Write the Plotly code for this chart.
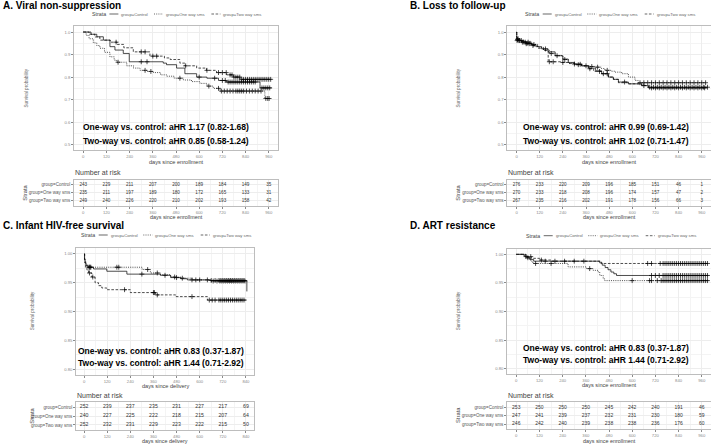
import numpy as np
import plotly.graph_objects as go

W, H = 711, 444

# ---------------- data ----------------
strata_labels = ["group=Control", "group=One way sms", "group=Two way sms"]
risk_times_960 = [0, 120, 240, 360, 480, 600, 720, 840, 960]
risk_times_840 = [0, 120, 240, 360, 480, 600, 720, 840]

# A. Viral non-suppression
A_ctrl_t = [0, 40, 70, 104, 138, 164, 207, 238, 414, 431, 483, 526, 587, 640, 700, 740, 915, 975]
A_ctrl_s = [1.0, 0.99, 0.979, 0.964, 0.935, 0.92, 0.905, 0.868, 0.862, 0.855, 0.84, 0.815, 0.80, 0.795, 0.785, 0.778, 0.752, 0.752]
A_ctrl_c = [300, 330, 600, 680, 720, 735, 750, 760, 770, 780, 790, 800, 810, 820, 830, 840, 850, 860, 870, 880, 890, 925, 935, 945, 955, 965]
A_ow_t = [0, 15, 30, 52, 70, 86, 110, 138, 160, 173, 225, 260, 294, 330, 363, 400, 431, 470, 518, 560, 604, 640, 673, 708, 940, 965]
A_ow_s = [1.0, 0.985, 0.97, 0.952, 0.94, 0.928, 0.91, 0.89, 0.875, 0.866, 0.85, 0.84, 0.83, 0.825, 0.82, 0.81, 0.804, 0.795, 0.787, 0.78, 0.772, 0.76, 0.75, 0.738, 0.705, 0.705]
A_ow_c = [180, 320, 350, 500, 650, 700, 715, 730, 745, 760, 775, 790, 800, 810, 820, 830, 845, 860, 875, 890, 905, 920, 945, 955, 962]
A_tw_t = [0, 30, 60, 86, 140, 175, 210, 259, 345, 420, 450, 500, 526, 587, 638, 690, 742, 777, 811, 975]
A_tw_s = [1.0, 0.99, 0.978, 0.964, 0.955, 0.945, 0.93, 0.912, 0.893, 0.885, 0.878, 0.862, 0.85, 0.84, 0.83, 0.82, 0.81, 0.80, 0.79, 0.79]
A_tw_c = [170, 300, 320, 360, 380, 530, 640, 700, 720, 740, 760, 770, 780, 790, 800, 810, 820, 830, 840, 850, 860, 870, 880, 890, 900, 910, 920, 930, 940, 950, 960, 970]
A_risk = [[243, 229, 211, 207, 200, 189, 184, 149, 35],
          [235, 211, 197, 189, 180, 172, 165, 133, 31],
          [249, 240, 226, 220, 210, 202, 193, 158, 42]]
A_hr = ["One-way vs. control: aHR 1.17 (0.82-1.68)", "Two-way vs. control: aHR 0.85 (0.58-1.24)"]

# B. Loss to follow-up
B_ctrl_t = [0, 1, 10, 30, 50, 78, 100, 130, 164, 200, 240, 268, 300, 337, 372, 410, 441, 476, 502, 528, 580, 649, 683, 985]
B_ctrl_s = [1.0, 0.967, 0.962, 0.956, 0.95, 0.944, 0.935, 0.925, 0.912, 0.895, 0.88, 0.865, 0.858, 0.85, 0.84, 0.828, 0.815, 0.80, 0.79, 0.778, 0.77, 0.762, 0.752, 0.752]
B_ctrl_c = [5, 15, 35, 55, 70, 150, 210, 300, 360, 450, 560, 660, 700, 720, 740, 760, 780, 800, 820, 840, 860, 880, 900, 920, 940, 960, 975]
B_ow_t = [0, 1, 20, 45, 78, 110, 140, 170, 200, 240, 268, 300, 337, 380, 407, 440, 458, 490, 510, 545, 580, 614, 631, 980]
B_ow_s = [1.0, 0.97, 0.962, 0.955, 0.945, 0.932, 0.92, 0.905, 0.895, 0.878, 0.862, 0.857, 0.85, 0.847, 0.844, 0.838, 0.83, 0.826, 0.822, 0.815, 0.80, 0.785, 0.775, 0.775]
B_ow_c = [8, 25, 45, 60, 90, 180, 250, 330, 390, 420, 470, 640, 660, 680, 700, 720, 740, 760, 780, 800, 820, 840, 860, 880, 900, 920, 940, 960, 980]
B_tw_t = [0, 1, 25, 50, 78, 110, 140, 164, 230, 268, 300, 337, 372, 400, 441, 476, 502, 528, 580, 649, 683, 990]
B_tw_s = [1.0, 0.962, 0.955, 0.948, 0.94, 0.928, 0.918, 0.868, 0.865, 0.86, 0.855, 0.85, 0.837, 0.825, 0.815, 0.80, 0.79, 0.775, 0.77, 0.763, 0.755, 0.755]
B_tw_c = [3, 12, 30, 50, 65, 85, 170, 190, 240, 320, 380, 430, 470, 690, 710, 730, 750, 770, 790, 810, 830, 850, 870, 890, 910, 930, 950, 970, 990]
B_risk = [[276, 233, 220, 209, 196, 185, 151, 46, 1],
          [270, 233, 218, 208, 196, 174, 157, 47, 2],
          [267, 235, 216, 202, 191, 178, 156, 66, 3]]
B_hr = ["One-way vs. control: aHR 0.99 (0.69-1.42)", "Two-way vs. control: aHR 1.02 (0.71-1.47)"]

# C. Infant HIV-free survival
C_ctrl_t = [0, 2, 5, 10, 20, 49, 118, 222, 396, 449, 501, 536, 657, 845]
C_ctrl_s = [1.0, 0.99, 0.985, 0.98, 0.977, 0.974, 0.970, 0.965, 0.963, 0.959, 0.957, 0.955, 0.954, 0.935]
C_ctrl_c = [30, 35, 300, 420, 480, 560, 600, 660, 680, 700, 710, 720, 730, 740, 750, 760, 770, 780, 790, 800, 810, 820, 830]
C_ow_t = [0, 3, 8, 15, 301, 344, 396, 449, 501, 560, 657, 843]
C_ow_s = [1.0, 0.99, 0.982, 0.977, 0.973, 0.967, 0.964, 0.96, 0.958, 0.955, 0.953, 0.953]
C_ow_c = [25, 30, 170, 180, 330, 380, 470, 510, 580, 640, 670, 690, 705, 715, 725, 735, 745, 755, 765, 775, 785, 795, 805, 815, 825, 835]
C_tw_t = [0, 3, 8, 15, 23, 40, 57, 75, 92, 118, 240, 370, 475, 640, 843]
C_tw_s = [1.0, 0.985, 0.977, 0.972, 0.967, 0.96, 0.95, 0.945, 0.941, 0.938, 0.933, 0.929, 0.926, 0.92, 0.92]
C_tw_c = [28, 45, 210, 360, 365, 380, 560, 650, 665, 680, 700, 710, 720, 730, 740, 750, 760, 770, 780, 790, 800, 810, 820, 830]
C_risk = [[252, 239, 237, 235, 231, 227, 217, 69],
          [240, 227, 225, 222, 218, 215, 207, 64],
          [252, 232, 231, 229, 223, 222, 215, 50]]
C_hr = ["One-way vs. control: aHR 0.83 (0.37-1.87)", "Two-way vs. control: aHR 1.44 (0.71-2.92)"]

# D. ART resistance
D_ctrl_t = [0, 40, 55, 70, 90, 432, 445, 460, 475, 490, 505, 519, 995]
D_ctrl_s = [1.0, 0.997, 0.994, 0.991, 0.988, 0.985, 0.981, 0.977, 0.973, 0.969, 0.966, 0.963, 0.963]
D_ctrl_c = [60, 150, 200, 250, 300, 350, 700, 720, 740, 760, 770, 780, 790, 800, 810, 820, 830, 840, 850, 860, 870, 880, 890, 900, 910, 920, 930, 940, 950, 960, 970, 980, 990]
D_ow_t = [0, 45, 60, 75, 86, 268, 363, 398, 424, 432, 450, 458, 995]
D_ow_s = [1.0, 0.996, 0.992, 0.988, 0.984, 0.978, 0.975, 0.972, 0.969, 0.963, 0.957, 0.954, 0.954]
D_ow_c = [100, 180, 380, 600, 690, 700, 730, 750, 760, 770, 780, 790, 800, 810, 820, 830, 840, 850, 860, 870, 880, 890, 900, 910, 920, 930, 940, 950, 960, 970, 980, 990]
D_tw_t = [0, 50, 78, 121, 180, 440, 995]
D_tw_s = [1.0, 0.996, 0.993, 0.99, 0.988, 0.984, 0.984]
D_tw_c = [50, 75, 130, 680, 700, 745, 760, 770, 780, 790, 800, 810, 820, 830, 840, 850, 860, 870, 880, 890, 900, 910, 920, 930, 940, 950, 960, 970, 980, 990]
D_risk = [[253, 250, 250, 250, 245, 242, 240, 191, 46],
          [247, 241, 239, 237, 232, 231, 230, 180, 59],
          [246, 242, 240, 239, 238, 238, 236, 176, 60]]
D_hr = ["One-way vs. control: aHR 0.83 (0.37-1.87)", "Two-way vs. control: aHR 1.44 (0.71-2.92)"]

# ---------------- layout (pixel boxes) ----------------
def fx(p):
    return p / W

def fy(p):
    return 1 - p / H

panels = [
    dict(key="A", title="A. Viral non-suppression", tx=2, ty=6,
         plot=(74, 278, 26.4, 150.3), table=(74, 278, 179.5, 205.7),
         curves=[(A_ctrl_t, A_ctrl_s, A_ctrl_c, "solid"), (A_ow_t, A_ow_s, A_ow_c, "dot"), (A_tw_t, A_tw_s, A_tw_c, "dash")],
         risk=A_risk, rt=risk_times_960, xr=[-48, 1008], yr=[0.475, 1.025], ydt=0.1, yfmt=".1f",
         xlab="days since enrollment", hr=A_hr, hrx=82, hry=(127.3, 141),
         leg=(90.7, 14), ylx=26, yly=88.5, xly=162, nary=172.7, stx=25, sty=192.7, txly=217.4, rfs=4.6),
    dict(key="B", title="B. Loss to follow-up", tx=409, ty=6,
         plot=(507.3, 711, 26.4, 150.3), table=(507.3, 711, 180, 205.7),
         curves=[(B_ctrl_t, B_ctrl_s, B_ctrl_c, "solid"), (B_ow_t, B_ow_s, B_ow_c, "dot"), (B_tw_t, B_tw_s, B_tw_c, "dash")],
         risk=B_risk, rt=risk_times_960, xr=[-48, 1008], yr=[0.475, 1.025], ydt=0.1, yfmt=".1f",
         xlab="days since enrollment", hr=B_hr, hrx=521.7, hry=(127.3, 141),
         leg=(524, 14), ylx=458, yly=88.5, xly=162, nary=172.7, stx=458, sty=192.7, txly=217.2, rfs=4.6),
    dict(key="C", title="C. Infant HIV-free survival", tx=2, ty=225.7,
         plot=(76, 254, 248.2, 375), table=(76, 254, 401.7, 430.3),
         curves=[(C_ctrl_t, C_ctrl_s, C_ctrl_c, "solid"), (C_ow_t, C_ow_s, C_ow_c, "dot"), (C_tw_t, C_tw_s, C_tw_c, "dash")],
         risk=C_risk, rt=risk_times_840, xr=[-42, 882], yr=[0.79, 1.01], ydt=0.05, yfmt=".2f",
         xlab="days since delivery", hr=C_hr, hrx=77.3, hry=(350.7, 363.3),
         leg=(80, 235), ylx=32.3, yly=311, xly=385.5, nary=395, stx=31.7, sty=416, txly=441.2, rfs=5.2),
    dict(key="D", title="D. ART resistance", tx=409, ty=225.7,
         plot=(507, 711, 248.6, 374.4), table=(507, 711, 402.3, 429.3),
         curves=[(D_ctrl_t, D_ctrl_s, D_ctrl_c, "solid"), (D_ow_t, D_ow_s, D_ow_c, "dot"), (D_tw_t, D_tw_s, D_tw_c, "dash")],
         risk=D_risk, rt=risk_times_960, xr=[-48, 1008], yr=[0.79, 1.01], ydt=0.05, yfmt=".2f",
         xlab="days since enrollment", hr=D_hr, hrx=521.7, hry=(347.7, 360),
         leg=(525, 235.7), ylx=458.3, yly=311, xly=385.3, nary=395.3, stx=458, sty=415, txly=440.6, rfs=5.0),
]

FONT = "Liberation Sans, Arial, sans-serif"
BORDER = "#bdbdbd"
GRID = "#ededed"
TICKC = "#8a8a8a"
DASHES = {"solid": "solid", "dot": "1px,1.2px", "dash": "2.6px,1.6px"}

fig = go.Figure()
layout = dict(width=W, height=H, margin=dict(l=0, r=0, t=0, b=0),
              paper_bgcolor="white", plot_bgcolor="white", showlegend=False,
              font=dict(family=FONT, color="#333"))
annotations = []
shapes = []


def ann(text, x, y, size, color="#333", xanchor="left", angle=0, bold=False):
    annotations.append(dict(text=("<b>%s</b>" % text) if bold else text, x=fx(x), y=fy(y),
                            xref="paper", yref="paper", xanchor=xanchor, yanchor="middle",
                            textangle=angle, showarrow=False, borderpad=0,
                            font=dict(size=size, color=color, family=FONT)))


def base_axis(rng, dtick, tick0, minor_dt, fmt=None):
    d = dict(range=rng, tickmode="linear", tick0=tick0, dtick=dtick,
             showline=True, mirror=True, linecolor=BORDER, linewidth=0.7,
             showgrid=True, gridcolor=GRID, gridwidth=0.6, zeroline=False,
             ticks="outside", ticklen=2, tickwidth=0.5, tickcolor=TICKC,
             tickfont=dict(size=4.2, color=TICKC, family=FONT),
             minor=dict(dtick=minor_dt, tick0=tick0, showgrid=True, gridcolor="#f4f4f4", gridwidth=0.4, ticks=""))
    if fmt:
        d["tickformat"] = fmt
    return d


leg_items = [(18.7, 29.7, "solid", strata_labels[0]),
             (63.3, 74.3, "dot", strata_labels[1]),
             (120.7, 131.7, "dash", strata_labels[2])]

for i, p in enumerate(panels):
    pa = 2 * i + 1
    ta = 2 * i + 2
    xa_p, ya_p = "x%d" % pa, "y%d" % pa
    xa_t, ya_t = "x%d" % ta, "y%d" % ta
    x0, x1, y0, y1 = p["plot"]
    tx0, tx1, ty0, ty1 = p["table"]

    layout["xaxis%d" % pa] = dict(domain=[fx(x0), fx(x1)], anchor=ya_p, **base_axis(p["xr"], 120, 0, 60))
    layout["yaxis%d" % pa] = dict(domain=[fy(y1), fy(y0)], anchor=xa_p,
                                  **base_axis(p["yr"], p["ydt"], p["yr"][0] + (0.025 if p["ydt"] == 0.1 else 0.01),
                                              p["ydt"] / 2, p["yfmt"]))
    layout["xaxis%d" % ta] = dict(domain=[fx(tx0), fx(tx1)], anchor=ya_t, **base_axis(p["xr"], 120, 0, 60))
    yt = base_axis([0.4, 3.6], 1, 1, 0.5)
    yt.update(tickmode="array", tickvals=[3, 2, 1], ticktext=strata_labels,
              tickfont=dict(size=4.5, color="#555", family=FONT))
    yt["minor"] = dict(showgrid=False)
    layout["yaxis%d" % ta] = dict(domain=[fy(ty1), fy(ty0)], anchor=xa_t, **yt)

    # KM curves
    for (t, s, c, dash) in p["curves"]:
        t_arr = np.array(t, dtype=float)
        s_arr = np.array(s, dtype=float)
        c_arr = np.array(c, dtype=float)
        idx = np.searchsorted(t_arr, c_arr, side="right") - 1
        fig.add_trace(go.Scatter(x=t_arr, y=s_arr, mode="lines",
                                 line=dict(color="black", width=0.7, dash=DASHES[dash], shape="hv"),
                                 xaxis=xa_p, yaxis=ya_p, hoverinfo="skip"))
        fig.add_trace(go.Scatter(x=c_arr, y=s_arr[idx], mode="markers",
                                 marker=dict(symbol="cross-thin", size=3.5, color="black",
                                             line=dict(width=0.7, color="black")),
                                 xaxis=xa_p, yaxis=ya_p, hoverinfo="skip"))

    # risk table numbers
    for r, row in enumerate(p["risk"]):
        fig.add_trace(go.Scatter(x=p["rt"], y=[3 - r] * len(row), mode="text", text=[str(v) for v in row],
                                 textfont=dict(size=p["rfs"], color="#333", family=FONT),
                                 xaxis=xa_t, yaxis=ya_t, hoverinfo="skip"))

    # texts
    ann(p["title"], p["tx"], p["ty"], 10, color="black", bold=True)
    ann("Survival probability", p["ylx"], p["yly"], 4.6, color="#666", xanchor="center", angle=-90)
    cx = (x0 + x1) / 2
    ann(p["xlab"], cx, p["xly"], 5.6, color="#444", xanchor="center")
    ann(p["hr"][0], p["hrx"], p["hry"][0], 8.5, color="black", bold=True)
    ann(p["hr"][1], p["hrx"], p["hry"][1], 8.5, color="black", bold=True)
    ann("Number at risk", tx0, p["nary"], 7, color="#444")
    ann("Strata", p["stx"], p["sty"], 5.8, color="#444", xanchor="center", angle=-90)
    ann(p["xlab"], (tx0 + tx1) / 2, p["txly"], 5.4, color="#444", xanchor="center")

    # legend
    lx, ly = p["leg"]
    ann("Strata", lx, ly, 5.3, color="#444")
    for (o_s, o_l, dash, lab) in leg_items:
        shapes.append(dict(type="line", xref="paper", yref="paper", x0=fx(lx + o_s), x1=fx(lx + o_s + 9),
                           y0=fy(ly), y1=fy(ly), line=dict(color="black", width=0.6, dash=DASHES[dash])))
        ann(lab, lx + o_l, ly, 4.2, color="#666")

layout["annotations"] = annotations
layout["shapes"] = shapes
fig.update_layout(**layout)
fig.write_html("out.html", config={"displayModeBar": False},
               post_script="document.body.style.margin='0';document.body.style.padding='0';document.body.style.overflow='hidden';")
